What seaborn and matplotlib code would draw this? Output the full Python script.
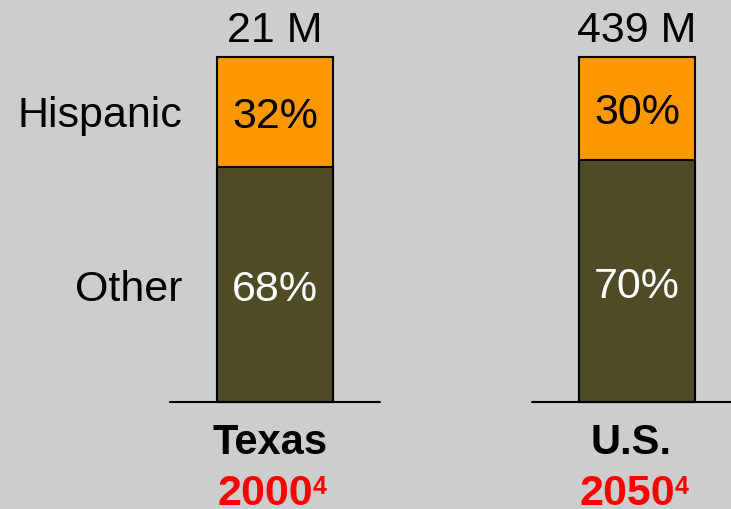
import pandas as pd
import seaborn as sns
import matplotlib.pyplot as plt

# data
places = ['Texas', 'U.S.']
years = ['2000', '2050']
totals = ['21 M', '439 M']
hispanic = [32, 30]
other = [68, 70]

df = pd.DataFrame({'Place': places, 'Hispanic': hispanic, 'Other': other})
df['Total'] = df['Hispanic'] + df['Other']

bg = '#cccecd'
orange = '#fb9700'
olive = '#4f4b27'

sns.set_style('white')
plt.rcParams['font.family'] = ['Liberation Sans', 'DejaVu Sans']
plt.rcParams['text.color'] = 'black'

fig = plt.figure(figsize=(7.31, 5.09), dpi=100, facecolor=bg)
ax = fig.add_axes([0, 0, 1, 1])
ax.set_facecolor(bg)

sns.barplot(x='Place', y='Total', data=df, color=orange, width=0.32, saturation=1,
            edgecolor='black', linewidth=1.5, ax=ax)
sns.barplot(x='Place', y='Other', data=df, color=olive, width=0.32, saturation=1,
            edgecolor='black', linewidth=1.5, ax=ax)

ax.set_xlim(-0.76, 1.26)
ax.set_ylim(-31, 116.5)
ax.axis('off')

for i in range(len(places)):
    # baseline under each bar
    ax.plot([i - 0.29, i + 0.29], [0, 0], color='black', lw=1.5, zorder=1)
    ax.text(i, 107.5, totals[i], ha='center', va='center', fontsize=31)
    ax.text(i, other[i] + hispanic[i] / 2 - 1.3, f'{hispanic[i]}%',
            ha='center', va='center', fontsize=31, color='black')
    ax.text(i, other[i] / 2 - 1.6, f'{other[i]}%',
            ha='center', va='center', fontsize=31, color='white')
    ax.text(i - 0.015, -12, places[i], ha='center', va='center',
            fontsize=30, fontweight='bold')
    ax.text(i + 0.105, -29.7, years[i], ha='right', va='baseline',
            fontsize=31, fontweight='bold', color='red')
    ax.text(i + 0.105, -26.6, '4', ha='left', va='baseline',
            fontsize=18, fontweight='bold', color='red')

ax.text(-0.255, 82.8, 'Hispanic', ha='right', va='center', fontsize=31)
ax.text(-0.255, 32.5, 'Other', ha='right', va='center', fontsize=31)

plt.savefig('out.png', dpi=100, facecolor=bg)
